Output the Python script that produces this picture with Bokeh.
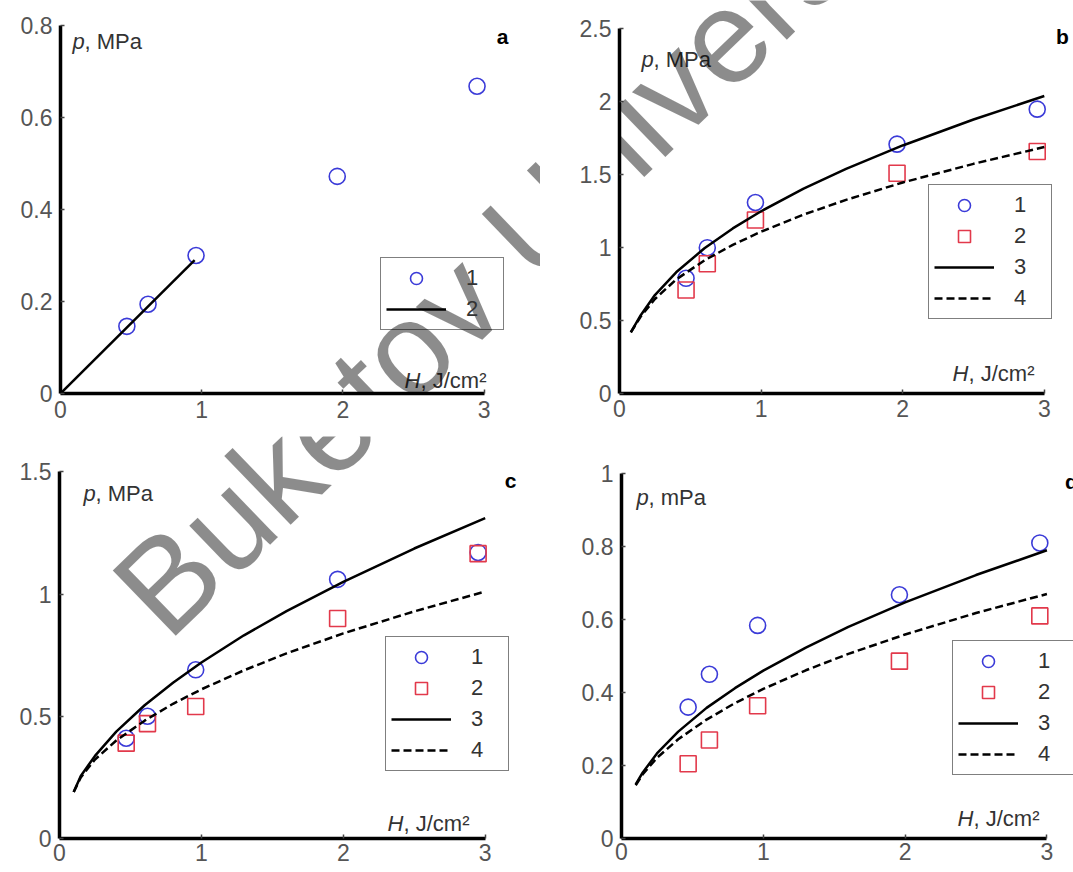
import numpy as np
from bokeh.plotting import figure
from bokeh.models import (Range1d, FixedTicker, NumeralTickFormatter, Legend,
                          LegendItem, Label)
from bokeh.layouts import column, row
from bokeh.embed import file_html
from bokeh.resources import INLINE

# ---------------- data ----------------
H_exp = [0.47, 0.62, 0.96, 1.96, 2.95]

# panel a
a_p1 = [0.146, 0.194, 0.30, 0.472, 0.668]
a_fit_H = [0.0, 0.95]
a_fit_p = [0.0, 0.29]

# panel b
b_p1 = [0.79, 1.00, 1.31, 1.71, 1.95]
b_p2 = [0.71, 0.89, 1.19, 1.51, 1.66]
b_fit_H = [0.08, 0.15, 0.25, 0.4, 0.6, 0.8, 1.0, 1.3, 1.6, 2.0, 2.5, 3.0]
b_fit3 = [0.42, 0.537, 0.675, 0.831, 0.996, 1.132, 1.25, 1.405, 1.541, 1.701, 1.879, 2.04]
b_fit4 = [0.42, 0.528, 0.648, 0.782, 0.913, 1.019, 1.11, 1.227, 1.328, 1.447, 1.575, 1.69]

# panel c
c_p1 = [0.41, 0.50, 0.69, 1.06, 1.17]
c_p2 = [0.39, 0.47, 0.54, 0.90, 1.165]
cd_fit_H = [0.1, 0.15, 0.25, 0.4, 0.6, 0.8, 1.0, 1.3, 1.6, 2.0, 2.5, 3.0]
c_fit3 = [0.19, 0.256, 0.338, 0.437, 0.545, 0.637, 0.72, 0.831, 0.930, 1.050, 1.186, 1.31]
c_fit4 = [0.19, 0.25, 0.323, 0.401, 0.482, 0.551, 0.61, 0.688, 0.757, 0.839, 0.929, 1.01]

# panel d
d_p1 = [0.36, 0.45, 0.584, 0.668, 0.81]
d_p2 = [0.205, 0.27, 0.364, 0.486, 0.61]
d_fit3 = [0.148, 0.181, 0.233, 0.293, 0.358, 0.412, 0.46, 0.523, 0.580, 0.647, 0.722, 0.79]
d_fit4 = [0.146, 0.176, 0.221, 0.272, 0.326, 0.371, 0.41, 0.461, 0.506, 0.559, 0.618, 0.67]

x_ticks = [0, 1, 2, 3]
a_yticks = [0, 0.2, 0.4, 0.6, 0.8]
b_yticks = [0, 0.5, 1, 1.5, 2, 2.5]
c_yticks = [0, 0.5, 1, 1.5]
d_yticks = [0, 0.2, 0.4, 0.6, 0.8, 1]

legend_labels = ["1", "2", "3", "4"]
x_unit_txt = ", J/cm\u00b2"
watermark_text = "Buketov University"

# ---------------- layout / style ----------------
FONT = "Liberation Sans"
BLUE = "#3b3bd8"
RED = "#e2394b"

GEOM = {
    "a": dict(W=540, H=436, gx=0, gy=0, L=60, B=43, xu=141.2, yu=460.0, xs=7),
    "b": dict(W=533, H=436, gx=540, gy=0, L=79, B=39, xu=141.6, yu=147.3, xs=6),
    "c": dict(W=540, H=436, gx=0, gy=436, L=59, B=34, xu=141.9, yu=244.5, xs=5),
    "d": dict(W=533, H=436, gx=540, gy=436, L=81, B=32, xu=141.8, yu=366.7, xs=4),
}

# text anchors in page pixels
TXT = {
    "a": dict(p=(72, 41), unit=(84, 41), ulabel=", MPa", letter=(502, 36), H=(404, 380), Hu=(420, 380), leg=(380, 330)),
    "b": dict(p=(641, 60), unit=(653, 60), ulabel=", MPa", letter=(1062, 36), H=(952, 377), Hu=(968, 377), leg=(928, 323)),
    "c": dict(p=(83, 493), unit=(95, 493), ulabel=", MPa", letter=(510, 480), H=(387, 823), Hu=(403, 823), leg=(385, 771)),
    "d": dict(p=(636, 497), unit=(648, 497), ulabel=", mPa", letter=(1071, 481), H=(957, 820), Hu=(973, 820), leg=(952, 777)),
}
WM = dict(x=136, y=610, angle=44.0, size="132px")


def make_panel(key, yticks, lines, points):
    g = GEOM[key]
    t = TXT[key]
    fl = g["gx"] + g["L"]
    fb = g["gy"] + g["H"] - g["B"]

    def dx(X):
        return (X - fl) / g["xu"]

    def dy(Y):
        return (fb - Y) / g["yu"]

    x_end = (g["W"] - g["L"]) / g["xu"]
    y_end = (g["H"] - g["B"]) / g["yu"]
    p = figure(width=g["W"], height=g["H"],
               x_range=Range1d(0, x_end), y_range=Range1d(0, y_end),
               min_border_left=g["L"], min_border_right=0,
               min_border_top=0, min_border_bottom=g["B"],
               toolbar_location=None, output_backend="svg",
               background_fill_color="white", border_fill_color="white",
               outline_line_color=None)
    p.xgrid.visible = False
    p.ygrid.visible = False
    for ax in (p.xaxis[0], p.yaxis[0]):
        ax.axis_line_width = 3.5
        ax.axis_line_color = "black"
        ax.major_tick_in = 4
        ax.major_tick_out = 0
        ax.major_tick_line_color = "#444444"
        ax.major_tick_line_width = 1.5
        ax.minor_tick_line_color = None
        ax.major_label_text_font = FONT
        ax.major_label_text_font_size = "23px"
        ax.major_label_text_color = "#555555"
        ax.formatter = NumeralTickFormatter(format="0.[0]")
    p.xaxis.ticker = FixedTicker(ticks=x_ticks)
    p.xaxis.bounds = (0, 3)
    p.xaxis.major_label_standoff = g["xs"]
    p.yaxis.ticker = FixedTicker(ticks=yticks)
    p.yaxis.bounds = (0, yticks[-1])
    p.yaxis.major_label_standoff = 8

    items = []
    rends_pts = []
    for (xs, ys, marker, color) in points:
        r = p.scatter(xs, ys, marker=marker, size=16, fill_color=None,
                      line_color=color, line_width=1.6)
        rends_pts.append(r)
    rends_lines = []
    for (xs, ys, dash) in lines:
        r = p.line(xs, ys, line_color="black", line_width=2.5, line_dash=dash)
        rends_lines.append(r)
    for i, r in enumerate(rends_pts + rends_lines):
        items.append(LegendItem(label=legend_labels[i], renderers=[r]))

    lx, lyb = t["leg"]
    leg = Legend(items=items, location=(lx - fl, fb - lyb), margin=0,
                 padding=5, spacing=1, glyph_width=60, glyph_height=30,
                 label_height=30, label_width=32, label_standoff=20,
                 border_line_color="black", border_line_width=1.5,
                 background_fill_color="white", background_fill_alpha=0.0,
                 label_text_font=FONT, label_text_font_size="22px",
                 label_text_color="#333333")
    p.add_layout(leg)

    def lab(pos, text, **kw):
        style = dict(text_font=FONT, text_font_size="22px", text_color="#333333",
                     text_baseline="alphabetic", text_align="left")
        style.update(kw)
        p.add_layout(Label(x=dx(pos[0]), y=dy(pos[1]), text=text, **style))

    lab(t["p"], "p", text_font_style="italic")
    lab(t["unit"], t["ulabel"])
    lab(t["H"], "H", text_font_style="italic")
    lab(t["Hu"], x_unit_txt)
    lab(t["letter"], key, text_font_style="bold", text_color="black",
        text_align="center", text_font_size="21px")

    p.add_layout(Label(x=dx(WM["x"]), y=dy(WM["y"]), text=watermark_text,
                       angle=np.radians(WM["angle"]), text_font=FONT,
                       text_font_size=WM["size"], text_color="black",
                       text_alpha=0.45, text_baseline="alphabetic",
                       text_align="left", level="overlay"))
    return p


pa = make_panel("a", a_yticks,
                [(a_fit_H, a_fit_p, "solid")],
                [(H_exp, a_p1, "circle", BLUE)])
pb = make_panel("b", b_yticks,
                [(b_fit_H, b_fit3, "solid"), (b_fit_H, b_fit4, "8 4")],
                [(H_exp, b_p1, "circle", BLUE), (H_exp, b_p2, "square", RED)])
pc = make_panel("c", c_yticks,
                [(cd_fit_H, c_fit3, "solid"), (cd_fit_H, c_fit4, "8 4")],
                [(H_exp, c_p1, "circle", BLUE), (H_exp, c_p2, "square", RED)])
pd_ = make_panel("d", d_yticks,
                 [(cd_fit_H, d_fit3, "solid"), (cd_fit_H, d_fit4, "8 4")],
                 [(H_exp, d_p1, "circle", BLUE), (H_exp, d_p2, "square", RED)])

layout = column(row(pa, pb, spacing=0), row(pc, pd_, spacing=0), spacing=0)

open("out.html", "w").write(file_html(layout, INLINE))
